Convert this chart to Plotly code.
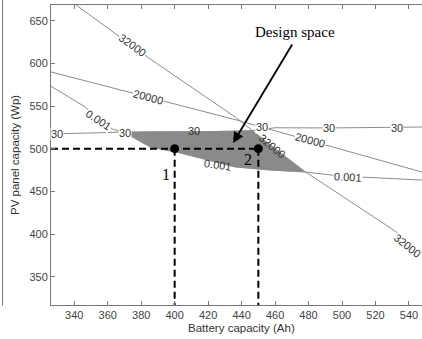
import plotly.graph_objects as go

# ---- data ----
c32000_x = [340, 384, 437, 458, 478, 529, 550]
c32000_y = [670, 607, 536, 503, 473, 407, 378]

c20000_x = [325, 437, 548]
c20000_y = [590.5, 533.6, 472.5]

c0001_x = [325, 346.6, 354.3, 362.7, 370.0, 385.4, 403.3, 415.2, 436.1, 457.0, 477.9, 498.8, 548]
c0001_y = [574.5, 548.8, 534.8, 523.1, 518.6, 502.0, 495.0, 489.1, 478.6, 475.0, 472.7, 468.0, 463.2]

c30_x = [325, 361.5, 373.4, 420, 445, 460, 492.8, 548]
c30_y = [517.2, 518.4, 519.6, 520.0, 521.0, 524.5, 524.3, 525.4]

design_x = [370.5, 385, 420, 446.5, 458, 478, 457, 436.1, 415.2, 403.3, 385.4, 370.5]
design_y = [519.0, 519.8, 520.0, 521.0, 503, 472.7, 475.0, 478.6, 489.1, 495.0, 502.0, 519.0]

point_x = [400, 450]
point_y = [500, 500]
point_labels = ["1", "2"]

x_range = [326.1, 547.8]
y_range = [316.8, 668.4]
x_ticks = [340, 360, 380, 400, 420, 440, 460, 480, 500, 520, 540]
y_ticks = [350, 400, 450, 500, 550, 600, 650]

# contour labels: text, x, y, angle, white background
clabels = [
    ("32000", 374.6, 621.0, 36, True),
    ("20000", 384.2, 560.4, 15, True),
    ("0.001", 354.6, 534.0, 33, True),
    ("30", 329.9, 517.2, 0, True),
    ("30", 370.4, 518.6, 0, True),
    ("30", 411.6, 520.7, 0, False),
    ("30", 452.2, 525.4, 0, True),
    ("30", 492.2, 524.3, 0, True),
    ("30", 532.8, 524.6, 0, True),
    ("32000", 458.2, 503.2, 40, False),
    ("20000", 480.9, 510.5, 15, True),
    ("0.001", 426.0, 481.0, 8, False),
    ("0.001", 503.6, 467.3, 3, True),
    ("32000", 539.4, 386.0, 38, True),
]

L, T, B = 51, 5, 34
W, H = 422, 339
PW, PH = W - L, H - T - B

fig = go.Figure()

fig.add_trace(go.Scatter(x=design_x, y=design_y, fill="toself", fillcolor="#8a8a8a",
                         line=dict(color="#8a8a8a", width=0.5), mode="lines", hoverinfo="skip"))

line_col = "#8c8c8c"
for xs, ys in [(c32000_x, c32000_y), (c20000_x, c20000_y), (c0001_x, c0001_y), (c30_x, c30_y)]:
    fig.add_trace(go.Scatter(x=xs, y=ys, mode="lines", line=dict(color=line_col, width=1),
                             hoverinfo="skip"))

# dashed guide lines from the design points
dash = "7px,4px"
fig.add_trace(go.Scatter(x=[x_range[0], point_x[1]], y=[point_y[0], point_y[1]], mode="lines",
                         line=dict(color="black", width=2, dash=dash)))
for px, py in zip(point_x, point_y):
    fig.add_trace(go.Scatter(x=[px, px], y=[py, y_range[0]], mode="lines",
                             line=dict(color="black", width=2, dash=dash)))

fig.add_trace(go.Scatter(x=point_x, y=point_y, mode="markers",
                         marker=dict(color="black", size=9)))

ann = []
for t, x, y, a, bg in clabels:
    ann.append(dict(x=x, y=y, text=t, showarrow=False, textangle=a,
                    xanchor="center", yanchor="middle",
                    font=dict(family="Liberation Sans, Arial", size=11, color="#333333"),
                    bgcolor="white" if bg else "rgba(0,0,0,0)", borderpad=0))

ann.append(dict(x=point_x[0] - 5.4, y=point_y[0] - 29.8, text=point_labels[0], showarrow=False,
                xanchor="center", yanchor="middle",
                font=dict(family="Liberation Serif, Times New Roman", size=16, color="black")))
ann.append(dict(x=point_x[1] - 6.1, y=point_y[1] - 12.2, text=point_labels[1], showarrow=False,
                xanchor="center", yanchor="middle",
                font=dict(family="Liberation Serif, Times New Roman", size=16, color="black")))

# Design space arrow + text
ann.append(dict(x=434.9, y=506.7, ax=60, ay=-100, text="", showarrow=True,
                arrowhead=2, arrowsize=1.2, arrowwidth=1.8, arrowcolor="black", standoff=0))
ann.append(dict(xref="paper", yref="paper", x=(295 - L) / PW, y=(H - B - 32) / PH,
                xanchor="center", yanchor="middle",
                text="Design space", showarrow=False,
                font=dict(family="Liberation Serif, Times New Roman", size=15, color="black")))

# axis titles
ann.append(dict(xref="paper", yref="paper", x=(241 - L) / PW, y=(H - B - 328) / PH,
                xanchor="center", yanchor="middle",
                text="Battery capacity (Ah)", showarrow=False,
                font=dict(family="Liberation Sans, Arial", size=11.5, color="#333333")))
ann.append(dict(xref="paper", yref="paper", x=(15 - L) / PW, y=(H - B - 155) / PH,
                xanchor="center", yanchor="middle",
                text="PV panel capacity (Wp)", showarrow=False, textangle=-90,
                font=dict(family="Liberation Sans, Arial", size=11.5, color="#333333")))

fig.update_layout(
    width=W, height=H,
    margin=dict(l=L, r=0, t=T, b=B, autoexpand=False),
    paper_bgcolor="white", plot_bgcolor="white",
    showlegend=False,
    annotations=ann,
    font=dict(family="Liberation Sans, Arial", size=11, color="#333333"),
)
fig.update_xaxes(range=x_range, tickvals=x_ticks, ticks="inside", ticklen=4, tickcolor="#777777",
                 showline=True, linecolor="#777777", linewidth=1, mirror="ticks", showgrid=False,
                 zeroline=False, automargin=False,
                 tickfont=dict(size=11, color="#444444"))
fig.update_yaxes(range=y_range, tickvals=y_ticks, ticks="inside", ticklen=4, tickcolor="#777777",
                 showline=True, linecolor="#777777", linewidth=1, mirror=False, showgrid=False,
                 zeroline=False, automargin=False,
                 tickfont=dict(size=11, color="#444444"))

# remnant border of a neighbouring panel at the far left
fig.add_shape(type="line", xref="paper", yref="paper", x0=(2.5 - L) / PW, x1=(2.5 - L) / PW,
              y0=-0.002, y1=1.02, line=dict(color="#777777", width=1))

fig.write_html("out.html", config={"displayModeBar": False},
               post_script="document.body.style.margin='0';document.body.style.overflow='hidden';")
